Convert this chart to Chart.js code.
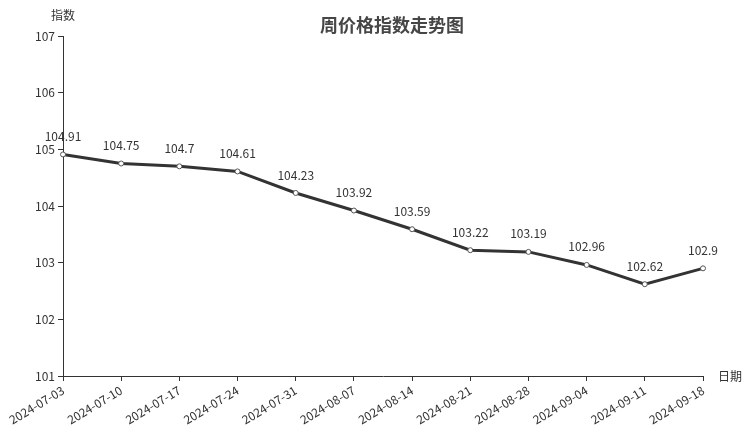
<!DOCTYPE html>
<html>
<head>
<meta charset="utf-8">
<script src="https://cdn.jsdelivr.net/npm/chart.js@4"></script>
<style>
  html, body { margin: 0; padding: 0; background: #fff; }
  #wrap { width: 752px; height: 427px; }
</style>
</head>
<body>
<div id="wrap"><canvas id="priceChart" width="752" height="427"></canvas></div>
<script>
// 주간 가격지수 데이터
const dates = ['2024-07-03', '2024-07-10', '2024-07-17', '2024-07-24', '2024-07-31', '2024-08-07',
               '2024-08-14', '2024-08-21', '2024-08-28', '2024-09-04', '2024-09-11', '2024-09-18'];
const indexValues = [104.91, 104.75, 104.7, 104.61, 104.23, 103.92, 103.59, 103.22, 103.19, 102.96, 102.62, 102.9];
const yMin = 101;
const yMax = 107;

const FONT = '"Noto Sans CJK SC", "Noto Sans", sans-serif';
const TEXT = '#333';

// 제목, 축 이름, 값 라벨
const extras = {
    id: 'extras',
    afterDatasetsDraw(chart) {
        const ctx = chart.ctx;
        const area = chart.chartArea;
        ctx.save();
        ctx.fillStyle = '#464646';
        ctx.font = 'bold 18px ' + FONT;
        ctx.textAlign = 'center';
        ctx.textBaseline = 'middle';
        ctx.fillText('周价格指数走势图', 392, 25);

        ctx.fillStyle = TEXT;
        ctx.font = '12px ' + FONT;
        ctx.fillText('指数', area.left, 15);
        ctx.textAlign = 'left';
        ctx.fillText('日期', area.right + 15, area.bottom);

        ctx.textAlign = 'center';
        ctx.textBaseline = 'middle';
        const meta = chart.getDatasetMeta(0);
        meta.data.forEach((pt, i) => {
            ctx.fillText(String(indexValues[i]), pt.x, pt.y - 18);
        });
        ctx.restore();
    }
};

new Chart(document.getElementById('priceChart'), {
    type: 'line',
    data: {
        labels: dates,
        datasets: [{
            data: indexValues,
            borderColor: '#333',
            borderWidth: 3,
            tension: 0,
            pointRadius: 2.5,
            pointBackgroundColor: '#fff',
            pointBorderColor: '#555',
            pointBorderWidth: 1
        }]
    },
    options: {
        responsive: false,
        animation: false,
        layout: { padding: { top: 36, right: 49, left: 0, bottom: 0 } },
        plugins: {
            legend: { display: false },
            title: { display: false },
            tooltip: { enabled: false }
        },
        scales: {
            x: {
                offset: false,
                grid: { drawOnChartArea: false, drawTicks: true, tickLength: 5, color: '#333' },
                border: { display: true, color: '#333', width: 1 },
                ticks: {
                    color: TEXT,
                    font: { family: FONT, size: 12 },
                    autoSkip: false,
                    minRotation: 31,
                    maxRotation: 31,
                    padding: 2
                },
                afterFit(scale) { scale.height = 51; }
            },
            y: {
                min: yMin,
                max: yMax,
                grid: { drawOnChartArea: false, drawTicks: true, tickLength: 5, color: '#333' },
                border: { display: true, color: '#333', width: 1 },
                ticks: {
                    stepSize: 1,
                    color: TEXT,
                    font: { family: FONT, size: 12 },
                    padding: 3
                },
                afterFit(scale) { scale.width = 63; }
            }
        }
    },
    plugins: [extras]
});
</script>
</body>
</html>
